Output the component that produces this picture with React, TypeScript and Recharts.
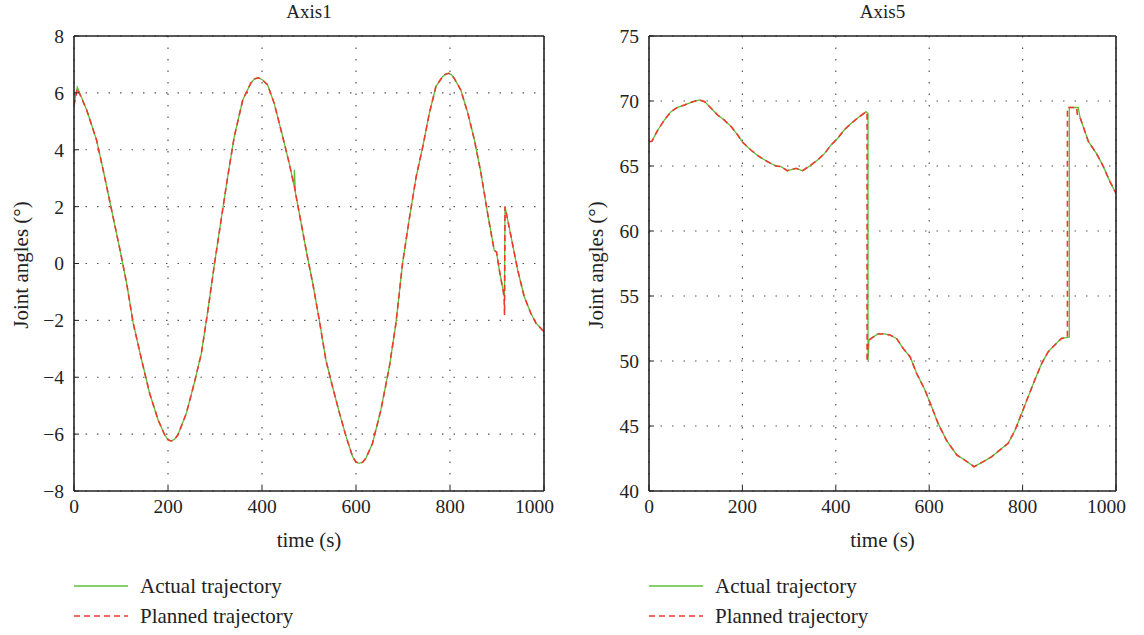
import React from "react";
import { CartesianGrid, Line, LineChart, XAxis, YAxis } from "recharts";

const timeTicks = [0, 200, 400, 600, 800, 1000];
const axis1Ticks = [-8, -6, -4, -2, 0, 2, 4, 6, 8];
const axis5Ticks = [40, 45, 50, 55, 60, 65, 70, 75];

const axis1Time = [
  0, 7, 27, 48, 62, 80, 98, 112, 126, 144, 161, 179, 193, 200, 207, 214, 221, 239, 256, 271, 285, 299, 313, 327,
  341, 359, 376, 384, 392, 400, 412, 426, 444, 458, 468, 469, 471, 486, 497, 508, 522, 536, 550, 565, 579, 593,
  600, 607, 614, 621, 635, 653, 671, 685, 699, 713, 728, 742, 756, 770, 784, 790, 797, 803, 809, 823, 838, 852,
  866, 880, 894, 899, 905, 915, 916, 917, 930, 944, 958, 972, 983, 1000
];
const axis1Actual = [
  5.6, 6.2, 5.4, 4.34, 3.29, 1.88, 0.47, -0.7, -2.1, -3.4, -4.57, -5.5, -6.03, -6.2, -6.24, -6.18, -6.03, -5.27,
  -4.2, -3.16, -1.64, 0.0, 1.53, 3.05, 4.46, 5.75, 6.34, 6.49, 6.53, 6.47, 6.28, 5.63, 4.46, 3.52, 2.75, 3.3, 2.5,
  1.18, 0.2, -0.7, -2.0, -3.4, -4.33, -5.27, -6.09, -6.8, -6.98, -7.03, -6.99, -6.85, -6.33, -5.15, -3.63, -2.1,
  0.0, 1.53, 3.05, 4.1, 5.28, 6.22, 6.57, 6.65, 6.69, 6.64, 6.51, 6.1, 5.28, 4.34, 3.17, 1.76, 0.47, 0.4, -0.23,
  -1.1, -1.17, 2.0, 0.94, -0.23, -1.17, -1.75, -2.1, -2.4
];
const axis1Planned = [
  5.55, 6.15, 5.4, 4.34, 3.29, 1.88, 0.47, -0.7, -2.1, -3.4, -4.57, -5.5, -6.03, -6.2, -6.24, -6.18, -6.03, -5.27,
  -4.2, -3.16, -1.64, 0.0, 1.53, 3.05, 4.46, 5.75, 6.34, 6.49, 6.53, 6.47, 6.28, 5.63, 4.46, 3.52, 2.75, 2.7, 2.5,
  1.18, 0.2, -0.7, -2.0, -3.4, -4.33, -5.27, -6.09, -6.8, -6.98, -7.03, -6.99, -6.85, -6.33, -5.15, -3.63, -2.1,
  0.0, 1.53, 3.05, 4.1, 5.28, 6.22, 6.57, 6.65, 6.69, 6.64, 6.51, 6.1, 5.28, 4.34, 3.17, 1.76, 0.47, 0.4, -0.23,
  -1.15, -1.81, 2.0, 0.94, -0.23, -1.17, -1.75, -2.1, -2.4
];

const axis5Time = [
  0, 6, 19, 33, 47, 61, 76, 94, 108, 119, 133, 147, 161, 176, 190, 201, 218, 236, 254, 272, 283, 296, 315, 329,
  347, 361, 376, 390, 404, 418, 433, 451, 465, 467, 467, 469, 469, 471, 476, 490, 504, 516, 530, 544, 559, 573,
  591, 605, 619, 637, 659, 676, 696, 716, 734, 751, 769, 784, 798, 812, 826, 841, 855, 869, 883, 896, 896, 900,
  900, 916, 917, 919, 923, 941, 958, 973, 987, 1000
];
const axis5Actual = [
  66.87, 66.9, 67.77, 68.54, 69.18, 69.51, 69.69, 69.95, 70.08, 69.95, 69.44, 68.92, 68.54, 68.03, 67.38, 66.8,
  66.23, 65.72, 65.33, 65.0, 64.95, 64.64, 64.82, 64.64, 65.08, 65.46, 65.97, 66.62, 67.13, 67.77, 68.28, 68.8,
  69.18, 69.1, 69.1, 69.05, 50.05, 51.6, 51.74, 52.08, 52.08, 52.0, 51.74, 50.97, 50.33, 49.05, 47.77, 46.5, 45.2,
  43.9, 42.77, 42.38, 41.87, 42.26, 42.64, 43.15, 43.67, 44.69, 45.97, 47.26, 48.54, 49.82, 50.72, 51.23, 51.74,
  51.82, 51.82, 51.85, 69.5, 69.5, 69.5, 69.5, 68.74, 66.87, 65.97, 64.95, 63.8, 62.9
];
const axis5Planned = [
  66.87, 66.9, 67.77, 68.54, 69.18, 69.51, 69.69, 69.95, 70.08, 69.95, 69.44, 68.92, 68.54, 68.03, 67.38, 66.8,
  66.23, 65.72, 65.33, 65.0, 64.95, 64.64, 64.82, 64.64, 65.08, 65.46, 65.97, 66.62, 67.13, 67.77, 68.28, 68.8,
  69.18, 69.1, 49.95, 51.3, 51.3, 51.6, 51.74, 52.08, 52.08, 52.0, 51.74, 50.97, 50.33, 49.05, 47.77, 46.5, 45.2,
  43.9, 42.77, 42.38, 41.87, 42.26, 42.64, 43.15, 43.67, 44.69, 45.97, 47.26, 48.54, 49.82, 50.72, 51.23, 51.74,
  51.82, 69.5, 69.5, 69.5, 69.5, 69.0, 68.85, 68.74, 66.87, 65.97, 64.95, 63.8, 62.9
];

const FONT = '"Liberation Serif", "Times New Roman", serif';
const INK = "#222";
const GREEN = "#5cbf3c";
const RED = "#f0392e";

const fmtTick = (v: number) => (v < 0 ? `\u2212${Math.abs(v)}` : String(v));

interface PanelProps {
  title: string;
  plotLeft: number;
  plotWidth: number;
  time: number[];
  actual: number[];
  planned: number[];
  domain: [number, number];
  yTicks: number[];
}

const AXIS_W = 74;

function Panel({ title, plotLeft, plotWidth, time, actual, planned, domain, yTicks }: PanelProps) {
  const data = time.map((t, i) => ({ t, actual: actual[i], planned: planned[i] }));
  const center = plotLeft + plotWidth / 2;
  const textStyle: React.CSSProperties = {
    position: "absolute",
    fontFamily: FONT,
    fontSize: 21,
    color: INK,
    whiteSpace: "nowrap",
    lineHeight: "24px"
  };

  return (
    <>
      <div style={{ position: "absolute", left: plotLeft - AXIS_W, top: 0 }}>
        <LineChart
          width={AXIS_W + plotWidth + 10}
          height={531}
          data={data}
          margin={{ top: 26, right: 0, bottom: 0, left: 0 }}
        >
          <CartesianGrid stroke="#555" strokeDasharray="1.5 10" strokeWidth={1.2} />
          <XAxis
            type="number"
            dataKey="t"
            domain={[0, 1000]}
            ticks={timeTicks}
            height={40}
            tickSize={-5}
            tickMargin={13}
            allowDataOverflow
            tick={{ fill: INK, fontSize: 19.5, fontFamily: FONT }}
            axisLine={{ stroke: INK, strokeWidth: 1.6 }}
            tickLine={{ stroke: INK }}
          />
          <XAxis
            xAxisId="top"
            orientation="top"
            type="number"
            dataKey="t"
            domain={[0, 1000]}
            ticks={timeTicks}
            height={10}
            tickSize={-5}
            tick={false}
            axisLine={{ stroke: INK, strokeWidth: 1.6 }}
            tickLine={{ stroke: INK }}
          />
          <YAxis
            type="number"
            domain={domain}
            ticks={yTicks}
            width={AXIS_W}
            tickSize={-5}
            tickMargin={15}
            allowDataOverflow
            tickFormatter={fmtTick}
            tick={{ fill: INK, fontSize: 19.5, fontFamily: FONT }}
            axisLine={{ stroke: INK, strokeWidth: 1.6 }}
            tickLine={{ stroke: INK }}
          />
          <YAxis
            yAxisId="right"
            orientation="right"
            type="number"
            domain={domain}
            ticks={yTicks}
            width={10}
            tickSize={-5}
            tick={false}
            axisLine={{ stroke: INK, strokeWidth: 1.6 }}
            tickLine={{ stroke: INK }}
          />
          <Line
            type="linear"
            dataKey="actual"
            stroke={GREEN}
            strokeWidth={1.3}
            dot={false}
            isAnimationActive={false}
          />
          <Line
            type="linear"
            dataKey="planned"
            stroke={RED}
            strokeWidth={1.6}
            strokeDasharray="6 4"
            dot={false}
            isAnimationActive={false}
          />
        </LineChart>
      </div>

      <div style={{ ...textStyle, fontSize: 19, left: center, top: 0, transform: "translateX(-50%)" }}>{title}</div>
      <div style={{ ...textStyle, left: center, top: 528, transform: "translateX(-50%)" }}>time (s)</div>
      <div
        style={{
          ...textStyle,
          left: plotLeft - 53,
          top: 265,
          transform: "translate(-50%, -50%) rotate(-90deg)"
        }}
      >
        Joint angles (°)
      </div>

      {[
        { label: "Actual trajectory", color: GREEN, dash: undefined, top: 574 },
        { label: "Planned trajectory", color: RED, dash: "6 4", top: 604 }
      ].map((item) => (
        <div key={item.label} style={{ position: "absolute", left: plotLeft, top: item.top, height: 24 }}>
          <svg width={54} height={24} style={{ position: "absolute", left: 0, top: 0 }}>
            <line x1={0} y1={12} x2={54} y2={12} stroke={item.color} strokeWidth={1.5} strokeDasharray={item.dash} />
          </svg>
          <div style={{ ...textStyle, left: 66, top: 0 }}>{item.label}</div>
        </div>
      ))}
    </>
  );
}

export default function App() {
  return (
    <div style={{ position: "absolute", left: 0, top: 0, width: 1144, height: 635, background: "#fff" }}>
      <Panel
        title="Axis1"
        plotLeft={74}
        plotWidth={470}
        time={axis1Time}
        actual={axis1Actual}
        planned={axis1Planned}
        domain={[-8, 8]}
        yTicks={axis1Ticks}
      />
      <Panel
        title="Axis5"
        plotLeft={649}
        plotWidth={467}
        time={axis5Time}
        actual={axis5Actual}
        planned={axis5Planned}
        domain={[40, 75]}
        yTicks={axis5Ticks}
      />
    </div>
  );
}
